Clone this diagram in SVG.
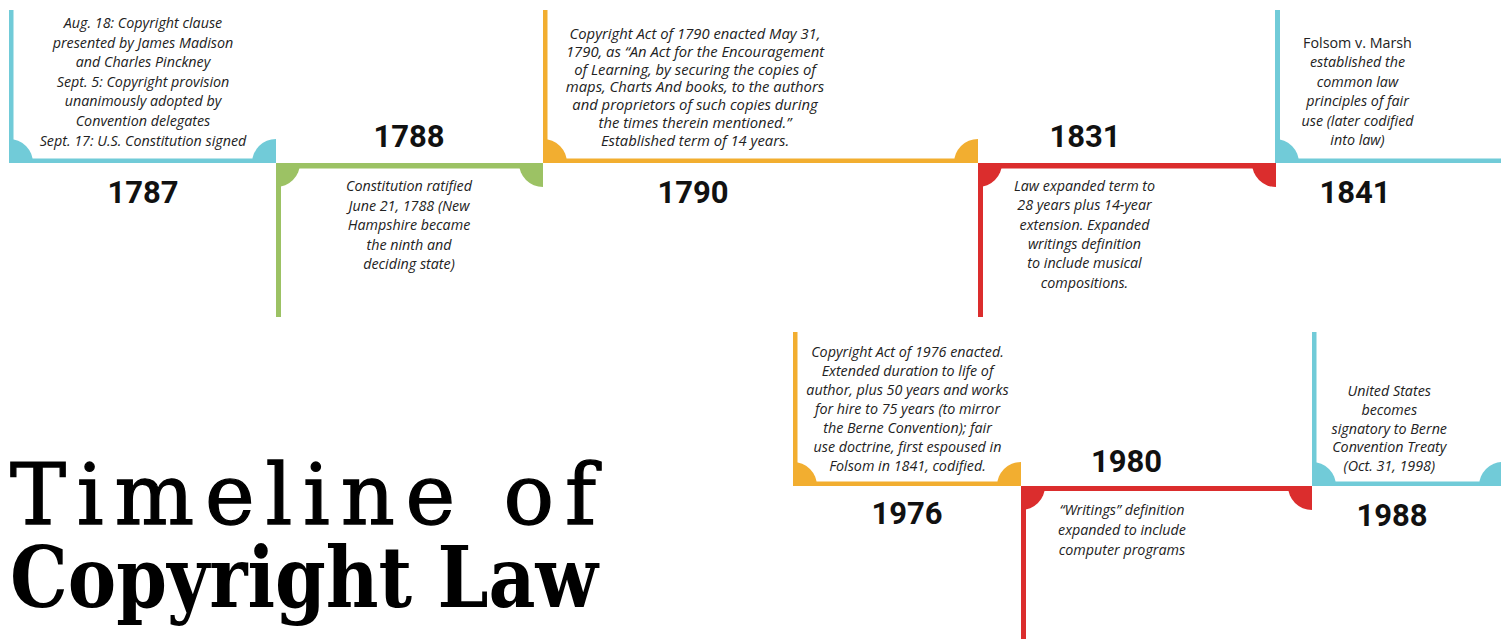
<svg xmlns="http://www.w3.org/2000/svg" width="1501" height="639" viewBox="0 0 1501 639">
<style>
.cy{fill:#71CBD8}.gr{fill:#9CC264}.or{fill:#F2AE30}.rd{fill:#DB2D2D}
.b{font-family:"Open Sans",Lato,sans-serif;font-style:italic;font-size:14.3px;fill:#222;text-anchor:middle}
.b3{font-size:14.8px}
.up{font-style:normal}
.yr{font-family:Roboto,Inter,sans-serif;font-weight:700;font-size:31px;fill:#111;text-anchor:middle}
.t1{font-family:"DejaVu Serif",serif;font-size:84px;fill:#000;stroke:#000;stroke-width:1.3px}
.t2{font-family:"DejaVu Serif",serif;font-weight:700;font-size:85px;fill:#000}
</style>
<rect width="1501" height="639" fill="#fff"/>
<g id="n1787">
<rect class="cy" x="9" y="10" width="4.5" height="153"/>
<rect class="cy" x="9" y="158.5" width="267" height="4.5"/>
<path class="cy" d="M9,163 L9,139 A24,24 0 0 1 33,163 Z"/>
<path class="cy" d="M276,163 L252,163 A24,24 0 0 1 276,139 Z"/>
<text class="b" x="143" y="28">Aug. 18: Copyright clause</text>
<text class="b" x="143" y="47.6">presented by James Madison</text>
<text class="b" x="143" y="67.2">and Charles Pinckney</text>
<text class="b" x="143" y="86.8">Sept. 5: Copyright provision</text>
<text class="b" x="143" y="106.4">unanimously adopted by</text>
<text class="b" x="143" y="126">Convention delegates</text>
<text class="b" x="143" y="145.6">Sept. 17: U.S. Constitution signed</text>
<text class="yr" x="143" y="203">1787</text>
</g>
<g id="n1788">
<rect class="gr" x="276" y="163" width="5" height="154"/>
<rect class="gr" x="276" y="163" width="267" height="5.5"/>
<path class="gr" d="M276,163 L300,163 A24,24 0 0 1 276,187 Z"/>
<path class="gr" d="M543,163 L543,187 A24,24 0 0 1 519,163 Z"/>
<text class="yr" x="409" y="147">1788</text>
<text class="b" x="409" y="191">Constitution ratified</text>
<text class="b" x="409" y="210.5">June 21, 1788 (New</text>
<text class="b" x="409" y="230">Hampshire became</text>
<text class="b" x="409" y="249.5">the ninth and</text>
<text class="b" x="409" y="269">deciding state)</text>
</g>
<g id="n1790">
<rect class="or" x="543" y="10" width="4.5" height="153"/>
<rect class="or" x="543" y="158.5" width="435" height="4.5"/>
<path class="or" d="M543,163 L543,139 A24,24 0 0 1 567,163 Z"/>
<path class="or" d="M978,163 L954,163 A24,24 0 0 1 978,139 Z"/>
<text class="b b3" x="695" y="39.3">Copyright Act of 1790 enacted May 31,</text>
<text class="b b3" x="695" y="57">1790, as “An Act for the Encouragement</text>
<text class="b b3" x="695" y="74.7">of Learning, by securing the copies of</text>
<text class="b b3" x="695" y="92.4">maps, Charts And books, to the authors</text>
<text class="b b3" x="695" y="110.1">and proprietors of such copies during</text>
<text class="b b3" x="695" y="127.8">the times therein mentioned.”</text>
<text class="b b3" x="695" y="145.5">Established term of 14 years.</text>
<text class="yr" x="693" y="203">1790</text>
</g>
<g id="n1831">
<rect class="rd" x="978" y="163" width="5" height="154"/>
<rect class="rd" x="978" y="163" width="298" height="5.5"/>
<path class="rd" d="M978,163 L1002,163 A24,24 0 0 1 978,187 Z"/>
<path class="rd" d="M1276,163 L1276,187 A24,24 0 0 1 1252,163 Z"/>
<text class="yr" x="1085" y="147">1831</text>
<text class="b" x="1084.5" y="190.7">Law expanded term to</text>
<text class="b" x="1084.5" y="210.1">28 years plus 14-year</text>
<text class="b" x="1084.5" y="229.5">extension. Expanded</text>
<text class="b" x="1084.5" y="248.9">writings definition</text>
<text class="b" x="1084.5" y="268.3">to include musical</text>
<text class="b" x="1084.5" y="287.7">compositions.</text>
</g>
<g id="n1841">
<rect class="cy" x="1275" y="10" width="5" height="153"/>
<rect class="cy" x="1275" y="158.5" width="226" height="4.5"/>
<path class="cy" d="M1275,163 L1275,139 A24,24 0 0 1 1299,163 Z"/>
<text class="b up" x="1357.5" y="47.7">Folsom v. Marsh</text>
<text class="b" x="1357.5" y="67.2">established the</text>
<text class="b" x="1357.5" y="86.7">common law</text>
<text class="b" x="1357.5" y="106.2">principles of fair</text>
<text class="b" x="1357.5" y="125.7">use (later codified</text>
<text class="b" x="1357.5" y="145.2">into law)</text>
<text class="yr" x="1355" y="203">1841</text>
</g>
<g id="n1976">
<rect class="or" x="793" y="332" width="4.5" height="154"/>
<rect class="or" x="793" y="481.5" width="228" height="4.5"/>
<path class="or" d="M793,486 L793,462 A24,24 0 0 1 817,486 Z"/>
<path class="or" d="M1021,486 L997,486 A24,24 0 0 1 1021,462 Z"/>
<text class="b" x="907.5" y="357.3">Copyright Act of 1976 enacted.</text>
<text class="b" x="907.5" y="376.3">Extended duration to life of</text>
<text class="b" x="907.5" y="395.3">author, plus 50 years and works</text>
<text class="b" x="907.5" y="414.3">for hire to 75 years (to mirror</text>
<text class="b" x="907.5" y="433.3">the Berne Convention); fair</text>
<text class="b" x="907.5" y="452.3">use doctrine, first espoused in</text>
<text class="b" x="907.5" y="471.3">Folsom in 1841, codified.</text>
<text class="yr" x="907" y="524">1976</text>
</g>
<g id="n1980">
<rect class="rd" x="1021" y="486" width="5" height="153"/>
<rect class="rd" x="1021" y="486" width="291" height="5"/>
<path class="rd" d="M1021,486 L1045,486 A24,24 0 0 1 1021,510 Z"/>
<path class="rd" d="M1312,486 L1312,510 A24,24 0 0 1 1288,486 Z"/>
<text class="yr" x="1126.5" y="472">1980</text>
<text class="b" x="1122" y="515">“Writings” definition</text>
<text class="b" x="1122" y="535">expanded to include</text>
<text class="b" x="1122" y="555">computer programs</text>
</g>
<g id="n1988">
<rect class="cy" x="1312" y="332" width="4.5" height="154"/>
<rect class="cy" x="1312" y="481.5" width="189" height="4.5"/>
<path class="cy" d="M1312,486 L1312,462 A24,24 0 0 1 1336,486 Z"/>
<path class="cy" d="M1503,486 L1479,486 A24,24 0 0 1 1503,462 Z"/>
<text class="b" x="1389.3" y="396">United States</text>
<text class="b" x="1389.3" y="414.8">becomes</text>
<text class="b" x="1389.3" y="433.6">signatory to Berne</text>
<text class="b" x="1389.3" y="452.4">Convention Treaty</text>
<text class="b" x="1389.3" y="471.2">(Oct. 31, 1998)</text>
<text class="yr" x="1392" y="526">1988</text>
</g>
<g id="title">
<text class="t1" x="10" y="524" textLength="586" lengthAdjust="spacing">Timeline of</text>
<text class="t2" x="10" y="607" textLength="588" lengthAdjust="spacingAndGlyphs">Copyright Law</text>
</g>
</svg>
